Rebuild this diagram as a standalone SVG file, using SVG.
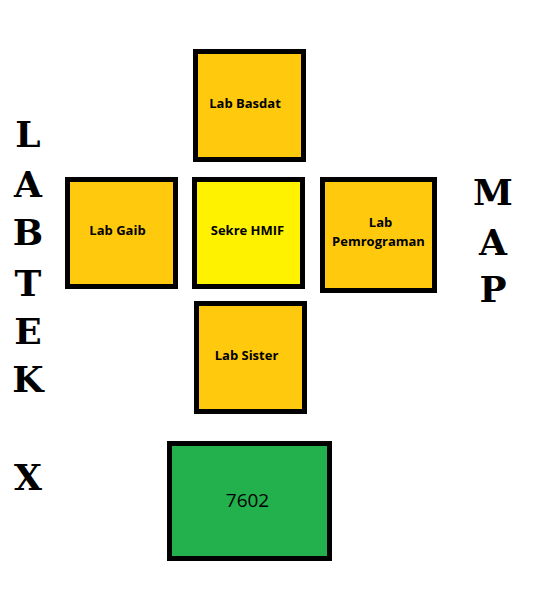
<svg xmlns="http://www.w3.org/2000/svg" width="541" height="600" viewBox="0 0 541 600">
<style>
.box{stroke:#000;stroke-width:5}
.lab{fill:#FFC90E}
.lbl{font-family:"Open Sans","Liberation Sans",sans-serif;font-weight:700;font-size:13px;fill:#000;text-anchor:middle}
.big{font-family:"DejaVu Serif","Liberation Serif",serif;font-weight:900;font-size:36px;fill:#000;text-anchor:middle}
</style>
<rect width="541" height="600" fill="#fff"/>
<g id="title-left">
<text class="big" x="28" y="147">L</text>
<text class="big" x="28" y="197">A</text>
<text class="big" x="28" y="245">B</text>
<text class="big" x="28" y="296">T</text>
<text class="big" x="28" y="344">E</text>
<text class="big" x="28" y="392">K</text>
<text class="big" x="28" y="490">X</text>
</g>
<g id="title-right">
<text class="big" x="493" y="205">M</text>
<text class="big" x="493" y="255">A</text>
<text class="big" x="493" y="302">P</text>
</g>
<g id="connectors"></g>
<g id="lab-basdat">
<rect class="box lab" x="195.5" y="51.5" width="108" height="108"/>
<text class="lbl" x="245" y="108">Lab Basdat</text>
</g>
<g id="lab-gaib">
<rect class="box lab" x="67.5" y="179.5" width="108" height="107"/>
<text class="lbl" x="117.5" y="235">Lab Gaib</text>
</g>
<g id="sekre-hmif">
<rect class="box" fill="#FFF200" x="194.5" y="179.5" width="108" height="107"/>
<text class="lbl" x="247.5" y="235">Sekre HMIF</text>
</g>
<g id="lab-pemrograman">
<rect class="box lab" x="322.5" y="179.5" width="112" height="111"/>
<text class="lbl" x="380.5" y="227">Lab</text>
<text class="lbl" x="378.5" y="246">Pemrograman</text>
</g>
<g id="lab-sister">
<rect class="box lab" x="196.5" y="303.5" width="108" height="108"/>
<text class="lbl" x="246.5" y="360">Lab Sister</text>
</g>
<g id="r7602">
<rect class="box" fill="#22B14C" x="169.5" y="443.5" width="160" height="115"/>
<text x="247.5" y="507" font-family="'Open Sans','Liberation Sans',sans-serif" font-size="19" text-anchor="middle" fill="#000">7602</text>
</g>
</svg>
